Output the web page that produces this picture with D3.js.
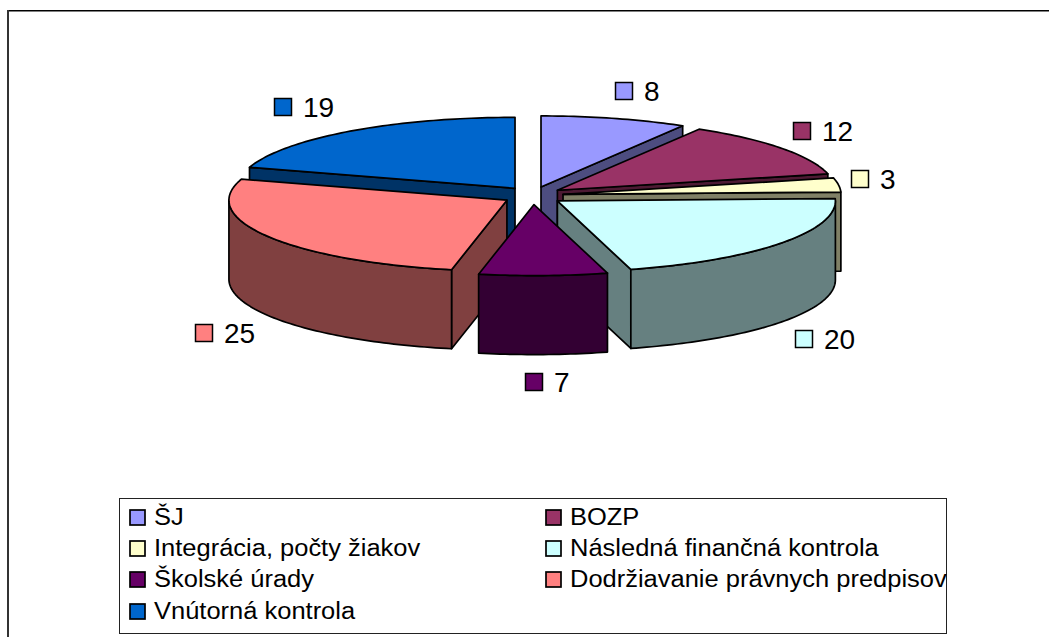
<!DOCTYPE html>
<html><head><meta charset="utf-8">
<script src="https://cdn.jsdelivr.net/npm/d3@7"></script>
<style>html,body{margin:0;padding:0;background:#fff}svg{display:block}text{font-family:"Liberation Sans",Arial,sans-serif;fill:#000}</style>
</head><body><div id="c"></div>
<script>
const categories = ["ŠJ","BOZP","Integrácia, počty žiakov","Následná finančná kontrola","Školské úrady","Dodržiavanie právnych predpisov","Vnútorná kontrola"];
const values = [8,12,3,20,7,25,19];
const colors = ["#9999FF","#993366","#FFFFCC","#CCFFFF","#660066","#FF8080","#0066CC"];
const drawOrder = [6,0,1,2,3,5,4];
const labelAnchors = [[615,82],[793,122],[851,170],[795,330],[525,373],[195,324],[274,98]];
const legendColumns = [130,546];
const legendRows = [510,541,572,604];
const W=1049,H=637;
const svg=d3.select("#c").append("svg").attr("width",W).attr("height",H);
svg.append("line").attr("x1",7).attr("x2",W).attr("y1",10.75).attr("y2",10.75).attr("stroke","#000").attr("stroke-width",1.5);
svg.append("line").attr("x1",8).attr("x2",8).attr("y1",10).attr("y2",H).attr("stroke","#333").attr("stroke-width",2);

const cx=533,cy=195.6,rx=278,ry=71,depth=79,ex=30.3,ey=9;
const pie=d3.pie().sort(null).value(d=>d)(values);
const sx=d3.scaleLinear().domain([-1,1]).range([-rx,rx]);
const sy=d3.scaleLinear().domain([-1,1]).range([-ry,ry]);
const half=c=>{const r=d3.rgb(c);return d3.rgb(r.r/2,r.g/2,r.b/2).formatHex();};
const line=d3.line();
const g=svg.append("g").attr("stroke","#000").attr("stroke-width",1.7).attr("stroke-linejoin","round");
function arcPts(a0,a1,o,dy){
  const n=Math.max(2,Math.ceil((a1-a0)/0.02)),p=[];
  for(let i=0;i<=n;i++){const a=a0+(a1-a0)*i/n;p.push([o[0]+sx(Math.sin(a)),o[1]-sy(Math.cos(a))+dy]);}
  return p;
}
drawOrder.forEach(i=>{
  const s=pie[i],mid=(s.startAngle+s.endAngle)/2;
  const o=[cx+ex*Math.sin(mid),cy-ey*Math.cos(mid)];
  const wall=half(colors[i]);
  const edge=a=>{const q=[o[0]+sx(Math.sin(a)),o[1]-sy(Math.cos(a))];
    g.append("path").attr("d",line([o,q,[q[0],q[1]+depth],[o[0],o[1]+depth]])+"Z").attr("fill",wall);};
  if(Math.sin(s.startAngle)<-1e-6) edge(s.startAngle);
  if(Math.sin(s.endAngle)>1e-6) edge(s.endAngle);
  const f0=Math.max(s.startAngle,Math.PI/2),f1=Math.min(s.endAngle,3*Math.PI/2);
  if(f1>f0){
    const top=arcPts(f0,f1,o,0),bot=arcPts(f0,f1,o,depth).reverse();
    g.append("path").attr("d",line(top.concat(bot))+"Z").attr("fill",wall);
  }
  g.append("path").attr("d",line([o].concat(arcPts(s.startAngle,s.endAngle,o,0)))+"Z").attr("fill",colors[i]);
});
// data labels
const labels=svg.append("g");
values.forEach((v,i)=>{
  const [x,y]=labelAnchors[i];
  labels.append("rect").attr("x",x+.5).attr("y",y+.5).attr("width",17).attr("height",17).attr("fill",colors[i]).attr("stroke","#000").attr("stroke-width",1.5);
  labels.append("text").attr("x",x+29).attr("y",y+18.5).attr("font-size",28).text(v);
});
// legend
const lg=svg.append("g");
lg.append("rect").attr("x",119.5).attr("y",498.5).attr("width",827).attr("height",135).attr("fill","#fff").attr("stroke","#222");
categories.forEach((c,i)=>{
  const col=i%2,row=Math.floor(i/2);
  const x=legendColumns[col],y=legendRows[row];
  lg.append("rect").attr("x",x).attr("y",y).attr("width",15).attr("height",15).attr("fill",colors[i]).attr("stroke","#000").attr("stroke-width",1.7);
  lg.append("text").attr("transform",`translate(${x+24},${y+15}) scale(1.085,1)`).attr("font-size",23.5).text(c);
});
</script></body></html>
